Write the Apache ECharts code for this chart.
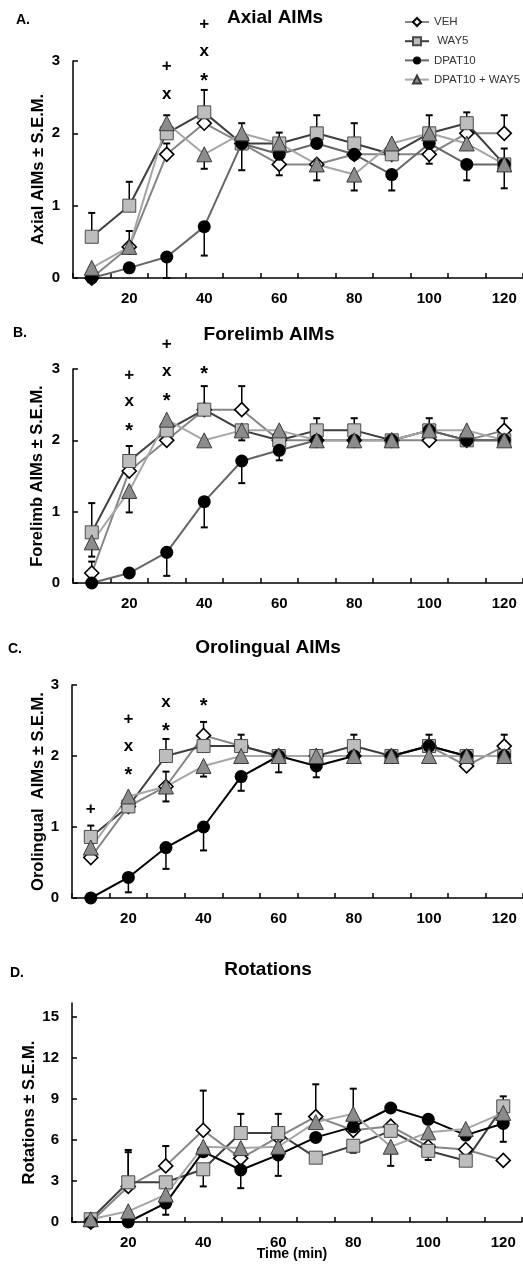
<!DOCTYPE html>
<html>
<head>
<meta charset="utf-8">
<script src="https://cdn.jsdelivr.net/npm/echarts@6/dist/echarts.min.js"></script>
<style>
html,body{margin:0;padding:0;background:#fff;}
#chart{width:523px;height:1265px;}
</style>
</head>
<body>
<div id="chart"></div>
<script>
// ---------- data ----------
const times = ['10','20','30','40','50','60','70','80','90','100','110','120'];
const seriesNames = ['VEH','WAY5','DPAT10','DPAT10 + WAY5'];

// Panel A: Axial AIMs
const axialVEH  = [0, 0.43, 1.71, 2.14, 1.86, 1.57, 1.57, 1.71, 1.71, 1.71, 2.0, 2.0];
const axialWAY5 = [0.57, 1.0, 2.0, 2.29, 1.86, 1.86, 2.0, 1.86, 1.71, 2.0, 2.14, 1.57];
const axialDPAT = [0, 0.14, 0.29, 0.71, 1.86, 1.71, 1.86, 1.71, 1.43, 1.86, 1.57, 1.57];
const axialCOMB = [0.14, 0.43, 2.14, 1.71, 2.0, 1.86, 1.57, 1.43, 1.86, 2.0, 1.86, 1.57];
// error bar end values (null = no visible bar)
const axialVEHerr  = [null, 0.65, 1.86, null, null, 1.42, null, null, null, 1.58, null, 2.25];
const axialWAY5err = [0.9, 1.33, null, 2.6, null, null, 2.25, 2.14, null, null, 2.29, 1.79];
const axialDPATerr = [null, null, 0, 0.31, 1.49, null, null, null, 1.21, null, 1.35, 1.24];
const axialCOMBerr = [null, null, 2.25, 1.51, 2.14, 2.01, 1.35, 1.21, null, 2.25, null, null];
const axialMarks = [[2, 2.93, '+'], [2, 2.53, 'x'], [3, 3.51, '+'], [3, 3.12, 'x'], [3, 2.79, '*']];

// Panel B: Forelimb AIMs
const foreVEH  = [0.14, 1.57, 2.0, 2.43, 2.43, 2.0, 2.0, 2.0, 2.0, 2.0, 2.0, 2.14];
const foreWAY5 = [0.71, 1.71, 2.14, 2.43, 2.14, 2.0, 2.14, 2.14, 2.0, 2.14, 2.0, 2.0];
const foreDPAT = [0, 0.14, 0.43, 1.14, 1.71, 1.86, 2.0, 2.0, 2.0, 2.14, 2.0, 2.0];
const foreCOMB = [0.57, 1.29, 2.29, 2.0, 2.14, 2.14, 2.0, 2.0, 2.0, 2.14, 2.14, 2.0];
const foreVEHerr  = [0.3, null, null, null, 2.76, null, null, null, null, null, null, 2.31];
const foreWAY5err = [1.12, 1.92, null, 2.76, 2.0, null, 2.31, 2.31, null, 2.31, null, null];
const foreDPATerr = [null, null, 0.1, 0.78, 1.4, 1.72, null, null, null, null, null, null];
const foreCOMBerr = [0.37, 0.99, null, null, null, null, null, null, null, null, null, null];
const foreMarks = [[1, 2.91, '+'], [1, 2.53, 'x'], [1, 2.19, '*'], [2, 3.35, '+'], [2, 2.96, 'x'], [2, 2.62, '*'], [3, 3.0, '*']];

// Panel C: Orolingual AIMs
const oroVEH  = [0.57, 1.29, 1.57, 2.29, 2.14, 2.0, 2.0, 2.0, 2.0, 2.14, 1.86, 2.14];
const oroWAY5 = [0.86, 1.29, 2.0, 2.14, 2.14, 2.0, 2.0, 2.14, 2.0, 2.14, 2.0, 2.0];
const oroDPAT = [0, 0.29, 0.71, 1.0, 1.71, 2.0, 1.86, 2.0, 2.0, 2.14, 2.0, 2.0];
const oroCOMB = [0.71, 1.43, 1.57, 1.86, 2.0, 2.0, 2.0, 2.0, 2.0, 2.0, 2.0, 2.0];
const oroVEHerr  = [null, null, 1.78, 2.48, null, null, null, null, null, null, null, 2.3];
const oroWAY5err = [1.02, null, 2.24, null, 2.3, null, null, 2.3, null, 2.3, null, null];
const oroDPATerr = [null, 0.08, 0.41, 0.67, 1.51, 1.77, 1.7, null, null, null, null, null];
const oroCOMBerr = [null, null, 1.36, 1.71, null, null, null, null, null, null, null, null];
const oroMarks = [[0, 1.25, '+'], [1, 2.51, '+'], [1, 2.12, 'x'], [1, 1.79, '*'], [2, 2.74, 'x'], [2, 2.41, '*'], [3, 2.77, '*']];

// Panel D: Rotations
const rotVEH  = [0, 2.6, 4.1, 6.7, 4.65, 6.2, 7.7, 6.7, 7.0, 5.5, 5.3, 4.5];
const rotWAY5 = [0.2, 2.9, 2.9, 3.85, 6.5, 6.5, 4.7, 5.57, 6.66, 5.2, 4.48, 8.45];
const rotDPAT = [0, 0, 1.38, 5.14, 3.8, 4.9, 6.18, 6.95, 8.33, 7.5, 6.35, 7.2];
const rotCOMB = [0.2, 0.78, 2.0, 5.5, 5.4, 5.5, 7.3, 7.9, 5.5, 6.55, 6.8, 7.97];
const rotVEHerr  = [null, 5.1, 5.55, 9.6, null, null, 10.06, null, null, null, null, null];
const rotWAY5err = [null, 5.26, null, 2.6, 7.9, 7.9, null, 5.06, null, 4.53, null, 9.18];
const rotDPATerr = [null, null, 0.53, null, 2.47, 3.37, null, null, 8.53, null, null, 5.86];
const rotCOMBerr = [null, null, null, null, null, null, null, 9.74, 4.1, null, null, null];
const rotMarks = [];

const yTicksAIM = [0, 1, 2, 3];
const yTicksRot = [0, 3, 6, 9, 12, 15];

// ---------- layout / style ----------
const FONT = 'Liberation Sans, Arial, Helvetica, sans-serif';
const panels = [
  {vals:[axialVEH,axialWAY5,axialDPAT,axialCOMB], errs:[axialVEHerr,axialWAY5err,axialDPATerr,axialCOMBerr], marks:axialMarks,
   grid:{left:73, top:61, width:458, height:217}, max:3, ticks:yTicksAIM, yName:'Axial AIMs ± S.E.M.', nameGap:26,
   dpatLine:'#666666'},
  {vals:[foreVEH,foreWAY5,foreDPAT,foreCOMB], errs:[foreVEHerr,foreWAY5err,foreDPATerr,foreCOMBerr], marks:foreMarks,
   grid:{left:73, top:369, width:456, height:214}, max:3, ticks:yTicksAIM, yName:'Forelimb AIMs ± S.E.M.', nameGap:27,
   dpatLine:'#666666'},
  {vals:[oroVEH,oroWAY5,oroDPAT,oroCOMB], errs:[oroVEHerr,oroWAY5err,oroDPATerr,oroCOMBerr], marks:oroMarks,
   grid:{left:72, top:685, width:452, height:213}, max:3, ticks:yTicksAIM, yName:'Orolingual  AIMs ± S.E.M.', nameGap:25.5,
   dpatLine:'#000000'},
  {vals:[rotVEH,rotWAY5,rotDPAT,rotCOMB], errs:[rotVEHerr,rotWAY5err,rotDPATerr,rotCOMBerr], marks:rotMarks,
   grid:{left:72, top:1003, width:450, height:219}, max:16, ticks:yTicksRot, yName:'Rotations ± S.E.M.', nameGap:34.5,
   dpatLine:'#000000'}
];

const seriesStyle = [
  {symbol:'diamond', size:14, fill:'#ffffff', border:'#000000', bw:1.6, line:'#858585'},
  {symbol:'rect', size:13, fill:'#bdbdbd', border:'#4a4a4a', bw:1, line:'#3e3e3e'},
  {symbol:'circle', size:13, fill:'#000000', border:'#000000', bw:0, line:null},
  {symbol:'triangle', size:15, fill:'#8c8c8c', border:'#3a3a3a', bw:1, line:'#a6a6a6'}
];

const grids = [], xAxes = [], yAxes = [], series = [];
const axisColor = '#000';

panels.forEach((p, gi) => {
  grids.push(Object.assign({containLabel:false}, p.grid));
  xAxes.push({
    type:'category', gridIndex:gi, data:times, boundaryGap:true,
    axisLine:{show:true, lineStyle:{color:axisColor, width:1.5}},
    axisTick:{show:true, inside:true, length:5, interval:0, lineStyle:{color:axisColor, width:1.5}},
    axisLabel:{interval:(idx) => idx % 2 === 1, color:'#000', fontWeight:'bold', fontSize:15, fontFamily:FONT, margin:13},
    splitLine:{show:false}
  });
  yAxes.push({
    type:'value', gridIndex:gi, min:0, max:p.max,
    interval: p.max === 3 ? 1 : undefined,
    axisLine:{show:true, onZero:false, lineStyle:{color:axisColor, width:1.5}},
    axisTick:{show:true, inside:true, length:5, customValues:p.ticks, lineStyle:{color:axisColor, width:1.5}},
    axisLabel:{customValues:p.ticks, color:'#000', fontWeight:'bold', fontSize:15, fontFamily:FONT, margin:13},
    splitLine:{show:false},
    name:p.yName, nameLocation:'middle', nameGap:p.nameGap, nameMoveOverlap:false,
    nameTextStyle:{color:'#000', fontWeight:'bold', fontSize:16.5, fontFamily:FONT}
  });

  // error bars
  const errData = [];
  p.vals.forEach((arr, si) => {
    arr.forEach((v, i) => {
      const e = p.errs[si][i];
      if (e !== null && e !== undefined) errData.push([i, v, e]);
    });
  });
  series.push({
    type:'custom', xAxisIndex:gi, yAxisIndex:gi, z:2, clip:false, silent:true,
    encode:{x:0, y:1},
    data:errData,
    renderItem:(params, api) => {
      const x = api.value(0), v = api.value(1), e = api.value(2);
      const p0 = api.coord([x, v]);
      const p1 = api.coord([x, e]);
      const st = {stroke:'#000', lineWidth:1.5};
      return {type:'group', children:[
        {type:'line', shape:{x1:p0[0], y1:p0[1], x2:p1[0], y2:p1[1]}, style:st},
        {type:'line', shape:{x1:p1[0]-3.5, y1:p1[1], x2:p1[0]+3.5, y2:p1[1]}, style:{stroke:'#000', lineWidth:2}}
      ]};
    }
  });

  // data lines
  p.vals.forEach((arr, si) => {
    const s = seriesStyle[si];
    const lineColor = si === 2 ? p.dpatLine : s.line;
    series.push({
      type:'line', name:seriesNames[si], xAxisIndex:gi, yAxisIndex:gi, z:3,
      data:arr, symbol:s.symbol, symbolSize:s.size, showSymbol:true, showAllSymbol:true,
      lineStyle:{color:lineColor, width:2},
      itemStyle:{color:s.fill, borderColor:s.border, borderWidth:s.bw},
      emphasis:{disabled:true}
    });
  });

  // significance markers
  if (p.marks.length) {
    const marks = p.marks;
    series.push({
      type:'custom', xAxisIndex:gi, yAxisIndex:gi, z:4, clip:false, silent:true,
      encode:{x:0, y:1},
      data:marks.map(m => [m[0], m[1]]),
      renderItem:(params, api) => {
        const c = api.coord([api.value(0), api.value(1)]);
        const t = marks[params.dataIndex][2];
        const fs = t === '*' ? 20 : 17;
        const off = t === '*' ? 5 : (t === 'x' ? -1 : 0);
        return {type:'text', x:c[0], y:c[1] + off, style:{
          text:t, fill:'#000', font:'bold ' + fs + 'px ' + FONT,
          textAlign:'center', textVerticalAlign:'middle'
        }};
      }
    });
  }
});

const txt = (text, x, y, size, align) => ({
  type:'text', x:x, y:y, silent:true,
  style:{text:text, fill:'#000', font:'bold ' + size + 'px ' + FONT, textAlign:align || 'left', textVerticalAlign:'middle'}
});

const option = {
  animation:false,
  backgroundColor:'#ffffff',
  grid:grids, xAxis:xAxes, yAxis:yAxes, series:series,
  legend:{
    data:seriesNames, orient:'vertical', left:404, top:16, padding:0,
    itemWidth:24, itemHeight:10, itemGap:7.2,
    formatter:(n) => n === 'WAY5' ? ' WAY5' : n,
    textStyle:{color:'#333', fontSize:11.5, fontFamily:FONT},
    selectedMode:false
  },
  graphic:[
    txt('A.', 16, 20, 14), txt('Axial AIMs', 275, 18, 19, 'center'),
    txt('B.', 13, 333, 14), txt('Forelimb AIMs', 269, 335, 19, 'center'),
    txt('C.', 8, 649, 14), txt('Orolingual AIMs', 268, 648, 19, 'center'),
    txt('D.', 10, 973, 14), txt('Rotations', 268, 970, 19, 'center'),
    txt('Time (min)', 292, 1254, 14, 'center')
  ]
};

const chart = echarts.init(document.getElementById('chart'), null, {renderer:'canvas', width:523, height:1265});
chart.setOption(option);
</script>
</body>
</html>
